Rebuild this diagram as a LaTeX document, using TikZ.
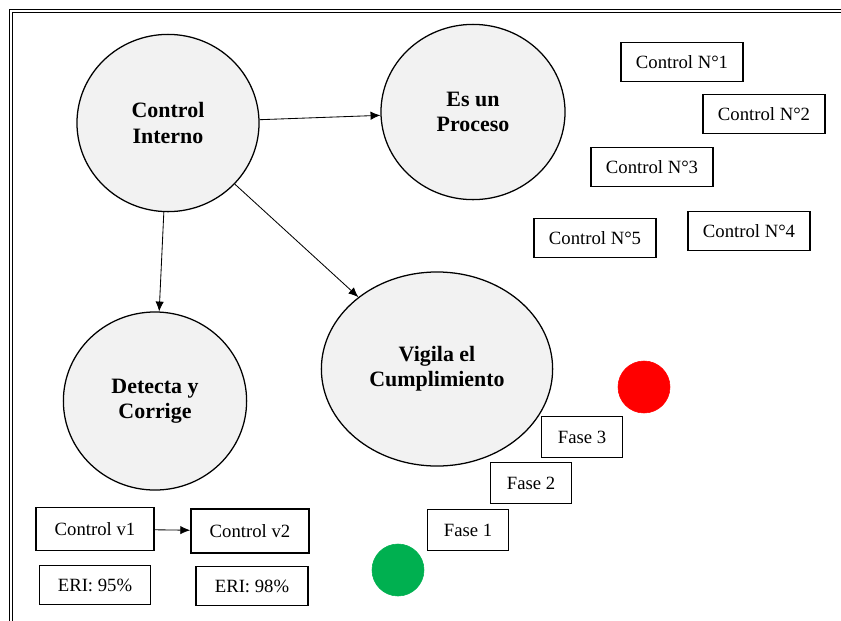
\documentclass[tikz,border=0pt]{standalone}
\usepackage{fontspec}
\setmainfont{Liberation Serif}
\usetikzlibrary{shapes.geometric,arrows.meta}
\definecolor{circlegray}{HTML}{F2F2F2}
\definecolor{okgreen}{HTML}{00B050}
\begin{document}
\begin{tikzpicture}[x=0.025cm, y=-0.025cm,
		bigcircle/.style={ellipse, draw, line width=0.9pt, fill=circlegray, inner sep=0pt, align=center, font=\fontsize{15.6}{18}\selectfont\bfseries},
		ctrlbox/.style={draw, line width=1.2pt, minimum height=0.97cm, inner sep=0pt, font=\fontsize{13.3}{16}\selectfont},
		link/.style={-{Latex[length=7pt,width=6pt]}, line width=0.6pt}]
		\useasboundingbox (0,0) rectangle (841,620);
		\draw[double, line width=0.7pt, double distance=1.4pt] (10.8,625) -- (10.8,10.8) -- (845,10.8);
		
		\node[bigcircle, minimum width=4.55cm, minimum height=4.43cm] (interno) at (168,123) {Control\\Interno};
		\node[bigcircle, minimum width=4.6cm, minimum height=4.38cm] (proceso) at (473,112) {Es un\\Proceso};
		\node[bigcircle, minimum width=4.58cm, minimum height=4.45cm] (detecta) at (155,401) {Detecta y\\Corrige};
		\node[bigcircle, minimum width=5.78cm, minimum height=4.85cm] (vigila) at (437,369) {Vigila el\\Cumplimiento};
		
		\draw[link] (interno) -- (proceso);
		\draw[link] (interno) -- (detecta);
		\draw[link] (interno) -- (vigila);
		
		\node[ctrlbox, minimum width=3.05cm] (n1) at (682,62) {Control N°1};
		\node[ctrlbox, minimum width=3.05cm] (n2) at (764,114) {Control N°2};
		\node[ctrlbox, minimum width=3.05cm] (n3) at (652,167) {Control N°3};
		\node[ctrlbox, minimum width=3.05cm] (n5) at (595,238) {Control N°5};
		\node[ctrlbox, minimum width=3.05cm] (n4) at (749,231) {Control N°4};
		
		\node[ctrlbox, minimum width=2.95cm, minimum height=1.07cm] (v1) at (95,529) {Control v1};
		\node[ctrlbox, minimum width=2.95cm, minimum height=1.1cm] (v2) at (250,531) {Control v2};
		\draw[link] (v1) -- (v2);
		\node[ctrlbox, minimum width=2.78cm] (eri1) at (95,585) {ERI: 95\%};
		\node[ctrlbox, minimum width=2.8cm] (eri2) at (252,586) {ERI: 98\%};
		
		\node[ctrlbox, minimum width=2.02cm, minimum height=1.03cm] (fase3) at (582,437) {Fase 3};
		\node[ctrlbox, minimum width=2.02cm, minimum height=1.03cm] (fase2) at (531,483) {Fase 2};
		\node[ctrlbox, minimum width=2.02cm, minimum height=1.03cm] (fase1) at (468,530) {Fase 1};
		
		\draw[fill, red] (644,387) circle [radius=0.65cm];
		\draw[fill, okgreen] (398,570) circle [radius=0.65cm];
\end{tikzpicture}
\end{document}
